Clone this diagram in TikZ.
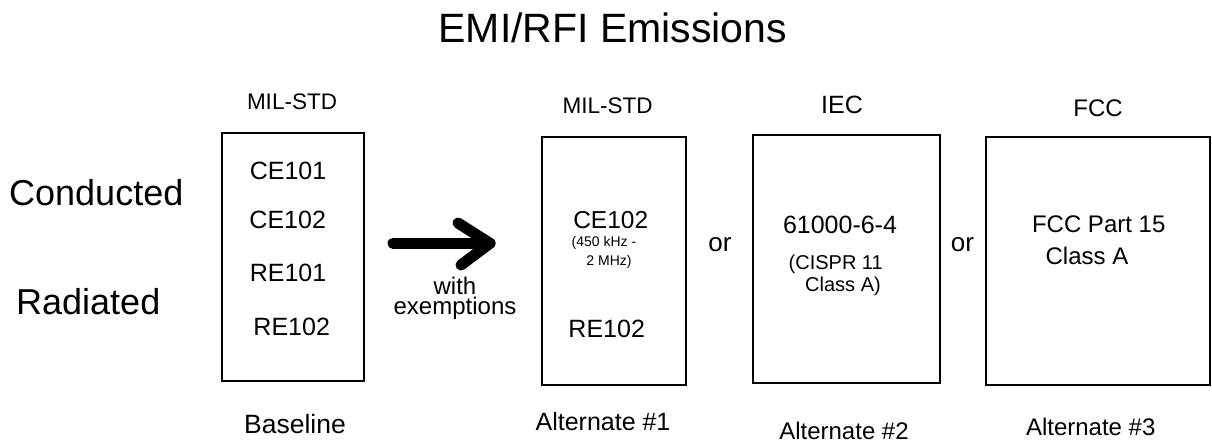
\documentclass[tikz,border=0pt]{standalone}
\usepackage{fontspec}
\setmainfont{Liberation Sans}
\begin{document}
\begin{tikzpicture}[x=1pt,y=-1pt,
  txt/.style={anchor=base,inner sep=0pt,font=\fontsize{#1pt}{#1pt}\selectfont},
  stdbox/.style={draw=black,line width=1.8pt,inner sep=0pt,minimum width=#1},
  bigarrow/.style={line width=11pt,line cap=round,line join=round}]
\useasboundingbox (0,0) rectangle (1212,443);
% title
\node[txt=41] (title) at (612.8,43) {EMI/RFI Emissions};
% row labels
\node[txt=36,anchor=base west] (cond) at (9,205.6) {Conducted};
\node[txt=36,anchor=base west] (rad) at (16,315) {Radiated};
% boxes
\node[stdbox=142.3pt,minimum height=248.3pt] (b1) at (292.9,256.9) {};
\node[stdbox=144.3pt,minimum height=247.7pt] (b2) at (613.9,261.2) {};
\node[stdbox=186.7pt,minimum height=247.7pt] (b3) at (846.7,258.8) {};
\node[stdbox=224pt,minimum height=247.4pt] (b4) at (1097.8,261) {};
% headers
\node[txt=22.5] (h1) at (292,109.3) {MIL-STD};
\node[txt=22.5] (h2) at (607.5,113.3) {MIL-STD};
\node[txt=25] (h3) at (842,113.3) {IEC};
\node[txt=24] (h4) at (1098,116.7) {FCC};
% box 1
\node[txt=25] (ce101) at (288,180) {CE101};
\node[txt=25] (ce102a) at (287.7,228.3) {CE102};
\node[txt=25] (re101) at (288,281.7) {RE101};
\node[txt=25] (re102a) at (291.7,336) {RE102};
% arrow
\coordinate (as) at (393,243.3);
\coordinate (at) at (490,243.3);
\coordinate (au) at (458,223);
\coordinate (ad) at (461,265);
\draw[bigarrow] (as) -- (at);
\draw[bigarrow] (au) -- (at) -- (ad);
\node[inner sep=0pt,align=center,anchor=base,font=\fontsize{24pt}{20pt}\selectfont] (exem) at (455,315) {with\\exemptions};
% box 2
\node[txt=24.5] (ce102b) at (610.7,228.3) {CE102};
\node[txt=14] (khz) at (604,246.7) {(450 kHz -};
\node[txt=14] (mhz) at (609,266) {2 MHz)};
\node[txt=25] (re102b) at (606.7,337.3) {RE102};
% or
\node[txt=26] (or1) at (720,251.7) {or};
\node[txt=26] (or2) at (962.5,251.7) {or};
% box 3
\node[txt=25] (iec) at (840,233.3) {61000-6-4};
\node[txt=20] (cispr) at (835.7,270) {(CISPR 11};
\node[txt=20] (clsa) at (843,291.7) {Class A)};
% box 4
\node[txt=24] (fcc) at (1098.7,232.7) {FCC Part 15};
\node[txt=24] (clsb) at (1087,265) {Class A};
% footers
\node[txt=26.5] (f1) at (295,433.3) {Baseline};
\node[txt=25] (f2) at (603,430) {Alternate \#1};
\node[txt=24] (f3) at (844,439) {Alternate \#2};
\node[txt=24] (f4) at (1090.7,435) {Alternate \#3};
\end{tikzpicture}
\end{document}
